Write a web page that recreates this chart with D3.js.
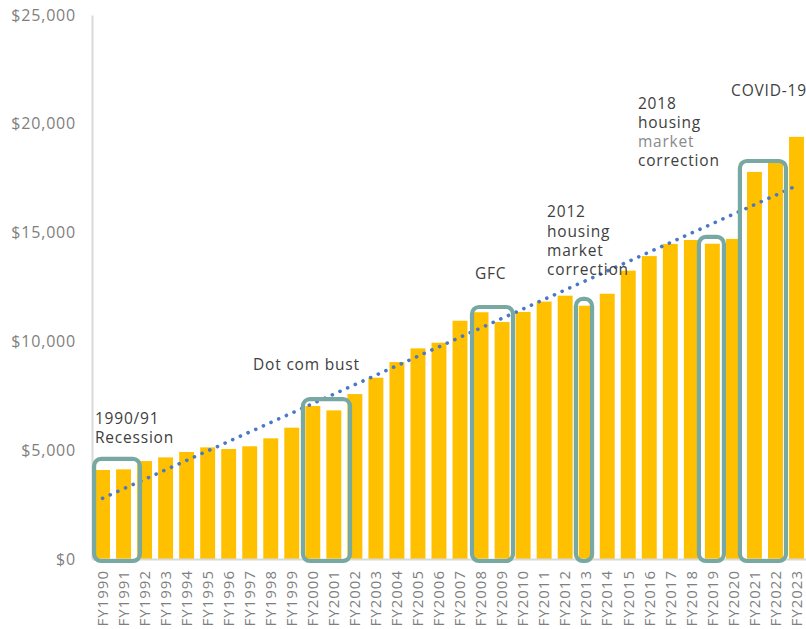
<!DOCTYPE html>
<html>
<head>
<meta charset="utf-8">
<script src="https://cdn.jsdelivr.net/npm/d3@7"></script>
<style>
  html, body { margin: 0; padding: 0; background: #fff; }
  svg { display: block; font-family: "Open Sans", "Noto Sans", sans-serif; }
</style>
</head>
<body>
<svg id="chart" width="806" height="629"></svg>
<script>
// ---- data ----
const categories = ["FY1990","FY1991","FY1992","FY1993","FY1994","FY1995","FY1996","FY1997","FY1998","FY1999",
  "FY2000","FY2001","FY2002","FY2003","FY2004","FY2005","FY2006","FY2007","FY2008","FY2009",
  "FY2010","FY2011","FY2012","FY2013","FY2014","FY2015","FY2016","FY2017","FY2018","FY2019",
  "FY2020","FY2021","FY2022","FY2023"];
const values = [4090, 4120, 4500, 4670, 4920, 5130, 5055, 5180, 5545, 6035,
  7030, 6830, 7580, 8330, 9050, 9680, 9940, 10950, 11340, 10890,
  11350, 11830, 12100, 11640, 12190, 13250, 13920, 14480, 14660, 14490,
  14710, 17790, 18320, 19400];
const trendCategories = ["FY1990", "FY2023"];
const trendValues = [2790, 17150];
const yTicks = [0, 5000, 10000, 15000, 20000, 25000];
// highlight boxes: span in fractional category positions, top value
const boxStart = [0.10, 10.03, 18.07, 23.01, 28.86, 30.81];
const boxEnd   = [2.28, 12.27, 20.02, 23.78, 30.05, 33.00];
const boxTop   = [4600, 7350, 11580, 11950, 14800, 18290];
const noteLines = [["1990/91", "Recession"], ["Dot com bust"], ["GFC"],
  ["2012", "housing", "market", "correction"], ["2018", "housing", "market", "correction"], ["COVID-19"]];
// annotation anchor: fractional category position and value of first baseline
const noteAt = [0.14, 7.66, 18.21, 21.64, 25.96, 30.39];
const noteValue = [6200, 8700, 12850, 15700, 20700, 21300];

// ---- layout ----
const svg = d3.select("#chart");
const x = d3.scaleBand().domain(categories).range([92, 807]).paddingInner(0.29).paddingOuter(0.145);
const y = d3.scaleLinear().domain([0, 25000]).range([559, 15]);
const step = x.step();
const xPos = d3.scaleLinear().domain([0, categories.length]).range([92, 92 + step * categories.length]);

// bars
svg.append("g").selectAll("rect").data(categories).join("rect")
  .attr("x", c => x(c))
  .attr("width", x.bandwidth())
  .attr("y", (c, i) => y(values[i]))
  .attr("height", (c, i) => y(0) - y(values[i]))
  .attr("fill", "#FFC000");

// y axis
const yAxis = svg.append("g").attr("transform", "translate(92,0)")
  .call(d3.axisLeft(y).tickValues(yTicks).tickSize(0).tickPadding(16)
    .tickFormat(d => "$" + d3.format(",")(d)));
yAxis.select(".domain").attr("stroke", "#d9d9d9").attr("stroke-width", 2);
yAxis.selectAll("text").attr("fill", "#7f7f7f").style("font-size", "16px")
  .style("letter-spacing", "0.8px")
  .style("font-family", "'Open Sans', sans-serif");

// x axis
const xAxis = svg.append("g").attr("transform", "translate(0,559)")
  .call(d3.axisBottom(x).tickSize(0).tickSizeOuter(0));
xAxis.select(".domain").attr("stroke", "#d9d9d9").attr("stroke-width", 2);
xAxis.selectAll("text")
  .attr("fill", "#7f7f7f").style("font-size", "15px")
  .style("letter-spacing", "1px")
  .style("font-family", "'Open Sans', sans-serif")
  .attr("transform", "rotate(-90)")
  .attr("text-anchor", "end")
  .attr("x", -11).attr("y", 0).attr("dy", "0.35em");

// trend line
svg.append("path")
  .datum(trendCategories.map((c, i) => [x(c) + x.bandwidth() / 2, y(trendValues[i])]))
  .attr("d", d3.line())
  .attr("fill", "none")
  .attr("stroke", "#4a78c6")
  .attr("stroke-width", 3.6)
  .attr("stroke-linecap", "round")
  .attr("stroke-dasharray", "0.1 8.3");

// boxes
svg.append("g").selectAll("rect").data(boxStart).join("rect")
  .attr("x", (s) => xPos(s))
  .attr("y", (s, i) => y(boxTop[i]))
  .attr("width", (s, i) => xPos(boxEnd[i]) - xPos(s))
  .attr("height", (s, i) => y(0) + 2 - y(boxTop[i]))
  .attr("rx", 7)
  .attr("fill", "none")
  .attr("stroke", "#78A8A2")
  .attr("stroke-width", 4.2);

// notes
const notes = svg.append("g").style("font-size", "15.5px").style("letter-spacing", "0.8px");
noteLines.forEach((lines, i) => {
  const nx = xPos(noteAt[i]);
  const t = notes.append("text")
    .attr("x", nx)
    .attr("y", y(noteValue[i]));
  lines.forEach((ln, j) => {
    t.append("tspan")
      .attr("x", nx)
      .attr("dy", j === 0 ? 0 : 19.3)
      .attr("fill", (i === 4 && j === 2) ? "#8a8a8a" : "#404040")
      .text(ln);
  });
});
</script>
</body>
</html>
